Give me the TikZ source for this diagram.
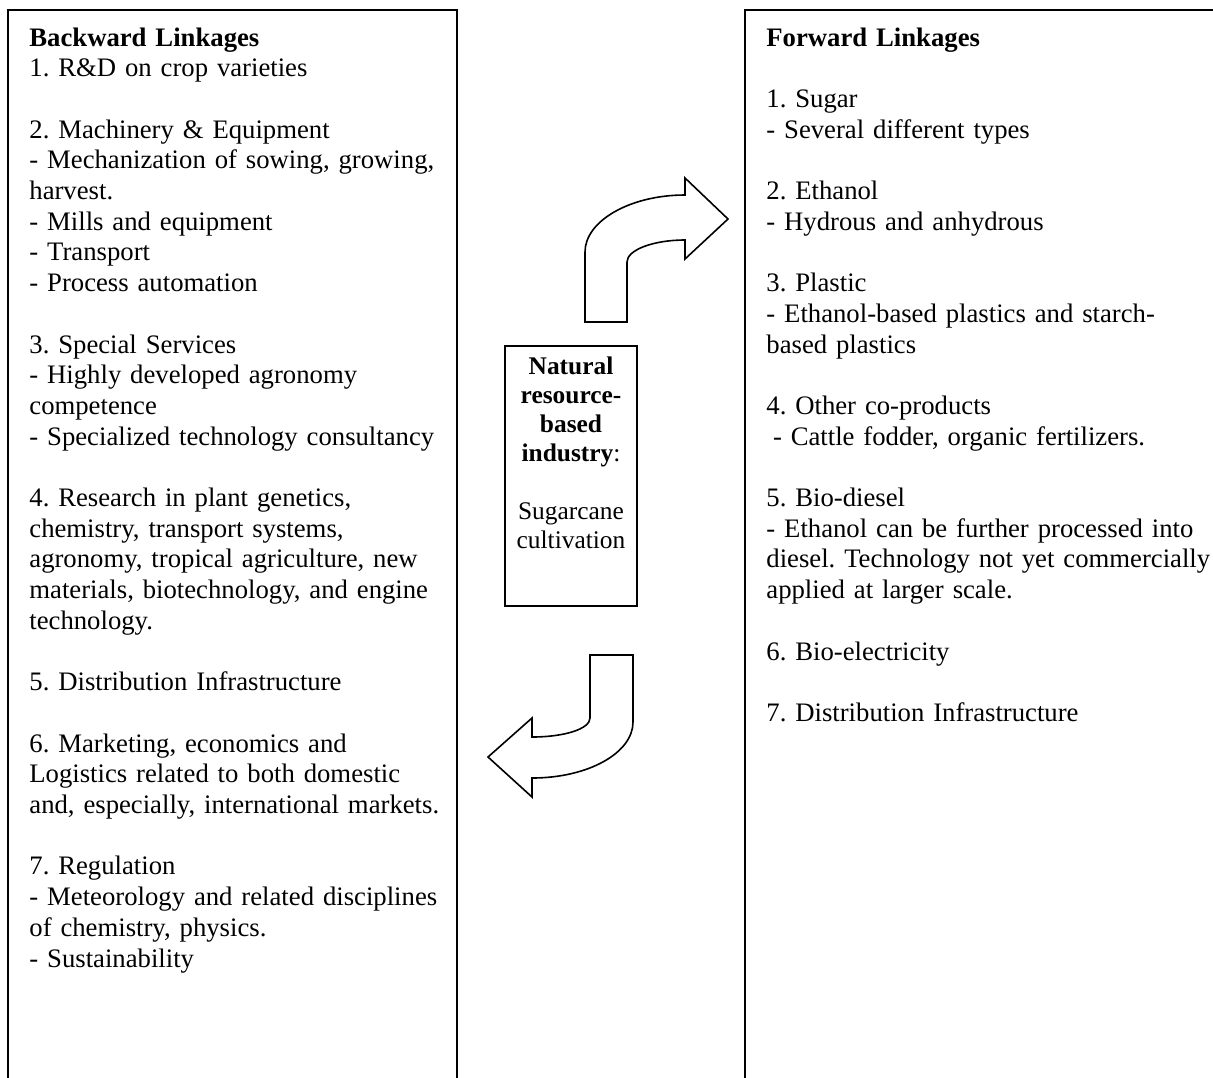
\documentclass[tikz,border=0pt]{standalone}
\usepackage{fontspec}
\setmainfont{Liberation Serif}
\frenchspacing
\begin{document}
\begin{tikzpicture}[x=0.5pt,y=-0.5pt,
        frame/.style={line width=1pt},
        sidetext/.style={anchor=base west, inner sep=0pt, text width=230pt, align=left,
            font=\fontsize{13.35}{15.35}\selectfont},
        coretext/.style={anchor=base, inner sep=0pt, text width=64pt, align=center,
            font=\fontsize{12.7}{14.5}\selectfont},
        blockarrow/.style={line width=0.8pt, line join=miter}]
        \useasboundingbox (0,0) rectangle (1213,1077);

        % Column frames (cut off at the bottom of the page)
        \draw[frame] (8,1090) |- (457,10) -- (457,1090);
        \draw[frame] (745,1090) |- (1220,10);

        % Backward linkages
        \node[sidetext] (backward) at (29,46) {\textbf{Backward Linkages}\\
            1. R\&D on crop varieties\\[\baselineskip]
            2. Machinery \& Equipment\\
            - Mechanization of sowing, growing,\\
            harvest.\\
            - Mills and equipment\\
            - Transport\\
            - Process automation\\[\baselineskip]
            3. Special Services\\
            - Highly developed agronomy\\
            competence\\
            - Specialized technology consultancy\\[\baselineskip]
            4. Research in plant genetics,\\
            chemistry, transport systems,\\
            agronomy, tropical agriculture, new\\
            materials, biotechnology, and engine\\
            technology.\\[\baselineskip]
            5. Distribution Infrastructure\\[\baselineskip]
            6. Marketing, economics and\\
            Logistics related to both domestic\\
            and, especially, international markets.\\[\baselineskip]
            7. Regulation\\
            - Meteorology and related disciplines\\
            of chemistry, physics.\\
            - Sustainability};

        % Forward linkages
        \node[sidetext] (forward) at (766,46) {\textbf{Forward Linkages}\\[\baselineskip]
            1. Sugar\\
            - Several different types\\[\baselineskip]
            2. Ethanol\\
            - Hydrous and anhydrous\\[\baselineskip]
            3. Plastic\\
            - Ethanol-based plastics and starch-\\
            based plastics\\[\baselineskip]
            4. Other co-products\\
            \hspace*{3.3pt}- Cattle fodder, organic fertilizers.\\[\baselineskip]
            5. Bio-diesel\\
            - Ethanol can be further processed into\\
            diesel. Technology not yet commercially\\
            applied at larger scale.\\[\baselineskip]
            6. Bio-electricity\\[\baselineskip]
            7. Distribution Infrastructure};

        % Core industry box
        \node[draw, line width=1pt, inner sep=0pt, minimum width=66pt, minimum height=130pt]
            (core) at (571,476) {};
        \node[coretext] (coretitle) at ([yshift=-14.5pt]core.north) {\textbf{Natural}\\
            \textbf{resource-}\\
            \textbf{based}\\
            \textbf{industry}:\\[\baselineskip]
            Sugarcane\\
            cultivation};

        % Block arrow towards forward linkages
        \draw[blockarrow] (585,322) -- (585,252)
            .. controls (585,221) and (630,195) .. (685,195)
            -- (685,178) -- (728,219) -- (685,259) -- (685,240)
            .. controls (653,240) and (627,250) .. (627,262)
            -- (627,322) -- cycle;

        % Block arrow towards backward linkages
        \draw[blockarrow] (590,655) -- (633,655) -- (633,722)
            .. controls (633,753) and (588,778) .. (532,778)
            -- (532,797) -- (488,757) -- (532,718) -- (532,737)
            .. controls (564,737) and (590,729) .. (590,718)
            -- cycle;
    \end{tikzpicture}
\end{document}
